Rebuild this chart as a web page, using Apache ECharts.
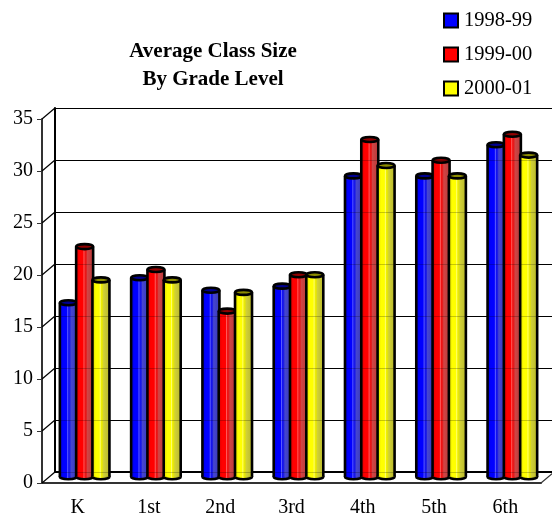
<!DOCTYPE html>
<html><head><meta charset="utf-8">
<style>html,body{margin:0;padding:0;background:#fff}#c{width:552px;height:514px}</style>
<script src="https://cdn.jsdelivr.net/npm/echarts@6/dist/echarts.min.js"></script>
</head><body><div id="c"></div>
<script>
const categories = ['K','1st','2nd','3rd','4th','5th','6th'];
const values9899 = [16.8,19.2,18,18.4,29,29,32];
const values9900 = [22.2,20,16,19.5,32.5,30.5,33];
const values0001 = [19,19,17.8,19.5,30,29,31];
const ticks = [0,5,10,15,20,25,30,35];
const FONT = '"Liberation Serif","Times New Roman",serif';

const DX = 7, DY = -5.5, STEP = 16.3, HALF = 8.5, RY = 2.5;
function grad(stops){
  return {type:'linear',x:0,y:0,x2:1,y2:0,colorStops:stops.map(s=>({offset:s[0],color:s[1]}))};
}
const palettes = [
  {legend:'#0000ff',inner:'#000090',fill:grad([[0,'#0000d8'],[.2,'#0000ff'],[.4,'#0000ff'],[.46,'#5a5aff'],[.52,'#1010f0'],[.6,'#2020e0'],[.66,'#4646d0'],[1,'#3838b8']])},
  {legend:'#ff0000',inner:'#900000',fill:grad([[0,'#d80000'],[.2,'#ff0000'],[.4,'#ff0000'],[.46,'#ff5a5a'],[.52,'#f01010'],[.6,'#e02020'],[.66,'#d04646'],[1,'#b83838']])},
  {legend:'#ffff00',inner:'#8c8c00',fill:grad([[0,'#d8d800'],[.2,'#ffff00'],[.4,'#ffff00'],[.46,'#ffff70'],[.52,'#f0f000'],[.6,'#e0e010'],[.66,'#d0d038'],[1,'#b8b828']])}
];
function cylinder(idx){
  const p = palettes[idx];
  return function(params, api){
    const base = api.coord([api.value(0),0]);
    const top = api.coord([api.value(0),api.value(1)]);
    const cx = base[0]+DX+(idx-1)*STEP, yb = base[1]-6.2, yt = top[1]+DY;
    const ln = {stroke:'#000',lineWidth:2.6};
    return {type:'group',children:[
      {type:'ellipse',shape:{cx:cx,cy:yb,rx:HALF,ry:RY},style:{fill:p.fill,...ln}},
      {type:'rect',shape:{x:cx-HALF,y:yt,width:HALF*2,height:yb-yt},style:{fill:p.fill}},
      {type:'line',shape:{x1:cx-HALF,y1:yt,x2:cx-HALF,y2:yb},style:ln},
      {type:'line',shape:{x1:cx+HALF,y1:yt,x2:cx+HALF,y2:yb},style:ln},
      {type:'ellipse',shape:{cx:cx,cy:yt,rx:HALF,ry:RY},style:{fill:p.inner,...ln}}
    ]};
  };
}
function barSeries(name,vals,idx){
  return {name:name,type:'custom',xAxisIndex:0,yAxisIndex:0,z:5+idx,clip:false,
    itemStyle:{color:palettes[idx].legend,borderColor:'#000',borderWidth:2},
    encode:{x:0,y:1},
    data:vals.map((v,i)=>[i,v]),renderItem:cylinder(idx)};
}
const option = {
  animation:false,backgroundColor:'#fff',
  textStyle:{fontFamily:FONT},
  title:{text:'Average Class Size\nBy Grade Level',left:208,textAlign:'center',top:33,
    textStyle:{fontFamily:FONT,fontSize:21,fontWeight:'bold',color:'#000',lineHeight:28}},
  legend:{orient:'vertical',left:438,top:5,itemWidth:14,itemHeight:14,itemGap:13,icon:'rect',
    data:['1998-99','1999-00','2000-01'],
    textStyle:{fontFamily:FONT,fontSize:20.5,color:'#000',padding:[0,0,0,1]}},
  grid:[
    {left:42,top:119,width:499,height:364,outerBoundsMode:'none'},
    {left:55,top:108,width:500,height:364,outerBoundsMode:'none'}
  ],
  xAxis:[
    {type:'category',gridIndex:0,data:categories,
      axisLine:{lineStyle:{color:'#333',width:2}},
      axisTick:{length:6,lineStyle:{color:'#333',width:1}},
      axisLabel:{color:'#000',fontFamily:FONT,fontSize:20,margin:15}},
    {type:'value',gridIndex:1,min:0,max:1,show:false}
  ],
  yAxis:[
    {type:'value',gridIndex:0,min:0,max:35,interval:5,
      axisLine:{show:true,lineStyle:{color:'#333',width:2}},
      axisTick:{show:true,length:5,lineStyle:{color:'#333',width:1}},
      axisLabel:{color:'#000',fontFamily:FONT,fontSize:20,margin:9},
      splitLine:{show:false}},
    {type:'value',gridIndex:1,min:0,max:35,interval:5,
      axisLine:{show:true,lineStyle:{color:'#000',width:2}},
      axisTick:{show:false},axisLabel:{show:false},
      splitLine:{show:true,lineStyle:{color:'#000',width:1}}}
  ],
  series:[
    {name:'frame',type:'custom',xAxisIndex:0,yAxisIndex:0,z:1,clip:false,silent:true,
      data:ticks.map(v=>[0,v]),encode:{x:0,y:1},
      renderItem:function(params,api){
        const v = api.value(1);
        const y = api.coord([0,v])[1];
        const g = params.coordSys;
        const kids = [{type:'line',shape:{x1:g.x,y1:y,x2:g.x+13,y2:y-11},style:{stroke:'#000',lineWidth:1.2}}];
        if(v===0){
          kids.push({type:'line',shape:{x1:g.x+13,y1:y-11,x2:g.x+g.width+13,y2:y-11},style:{stroke:'#000',lineWidth:2}});
          kids.push({type:'line',shape:{x1:g.x+g.width,y1:y,x2:g.x+g.width+13,y2:y-11},style:{stroke:'#333',lineWidth:1.2}});
        }
        return {type:'group',children:kids};
      }},
    barSeries('1998-99',values9899,0),
    barSeries('1999-00',values9900,1),
    barSeries('2000-01',values0001,2),
    {name:'sheen',type:'custom',xAxisIndex:0,yAxisIndex:0,z:9,clip:false,silent:true,
      data:ticks.map(v=>[0,v]),encode:{x:0,y:1},
      renderItem:function(params,api){
        const y = Math.round(api.coord([0,api.value(1)])[1]-11)+0.5;
        const g = params.coordSys;
        return {type:'line',shape:{x1:g.x+13,y1:y,x2:g.x+g.width+13,y2:y},style:{stroke:'rgba(0,0,0,0.22)',lineWidth:1}};
      }}
  ]
};
echarts.init(document.getElementById('c'),null,{renderer:'canvas'}).setOption(option);
</script></body></html>
